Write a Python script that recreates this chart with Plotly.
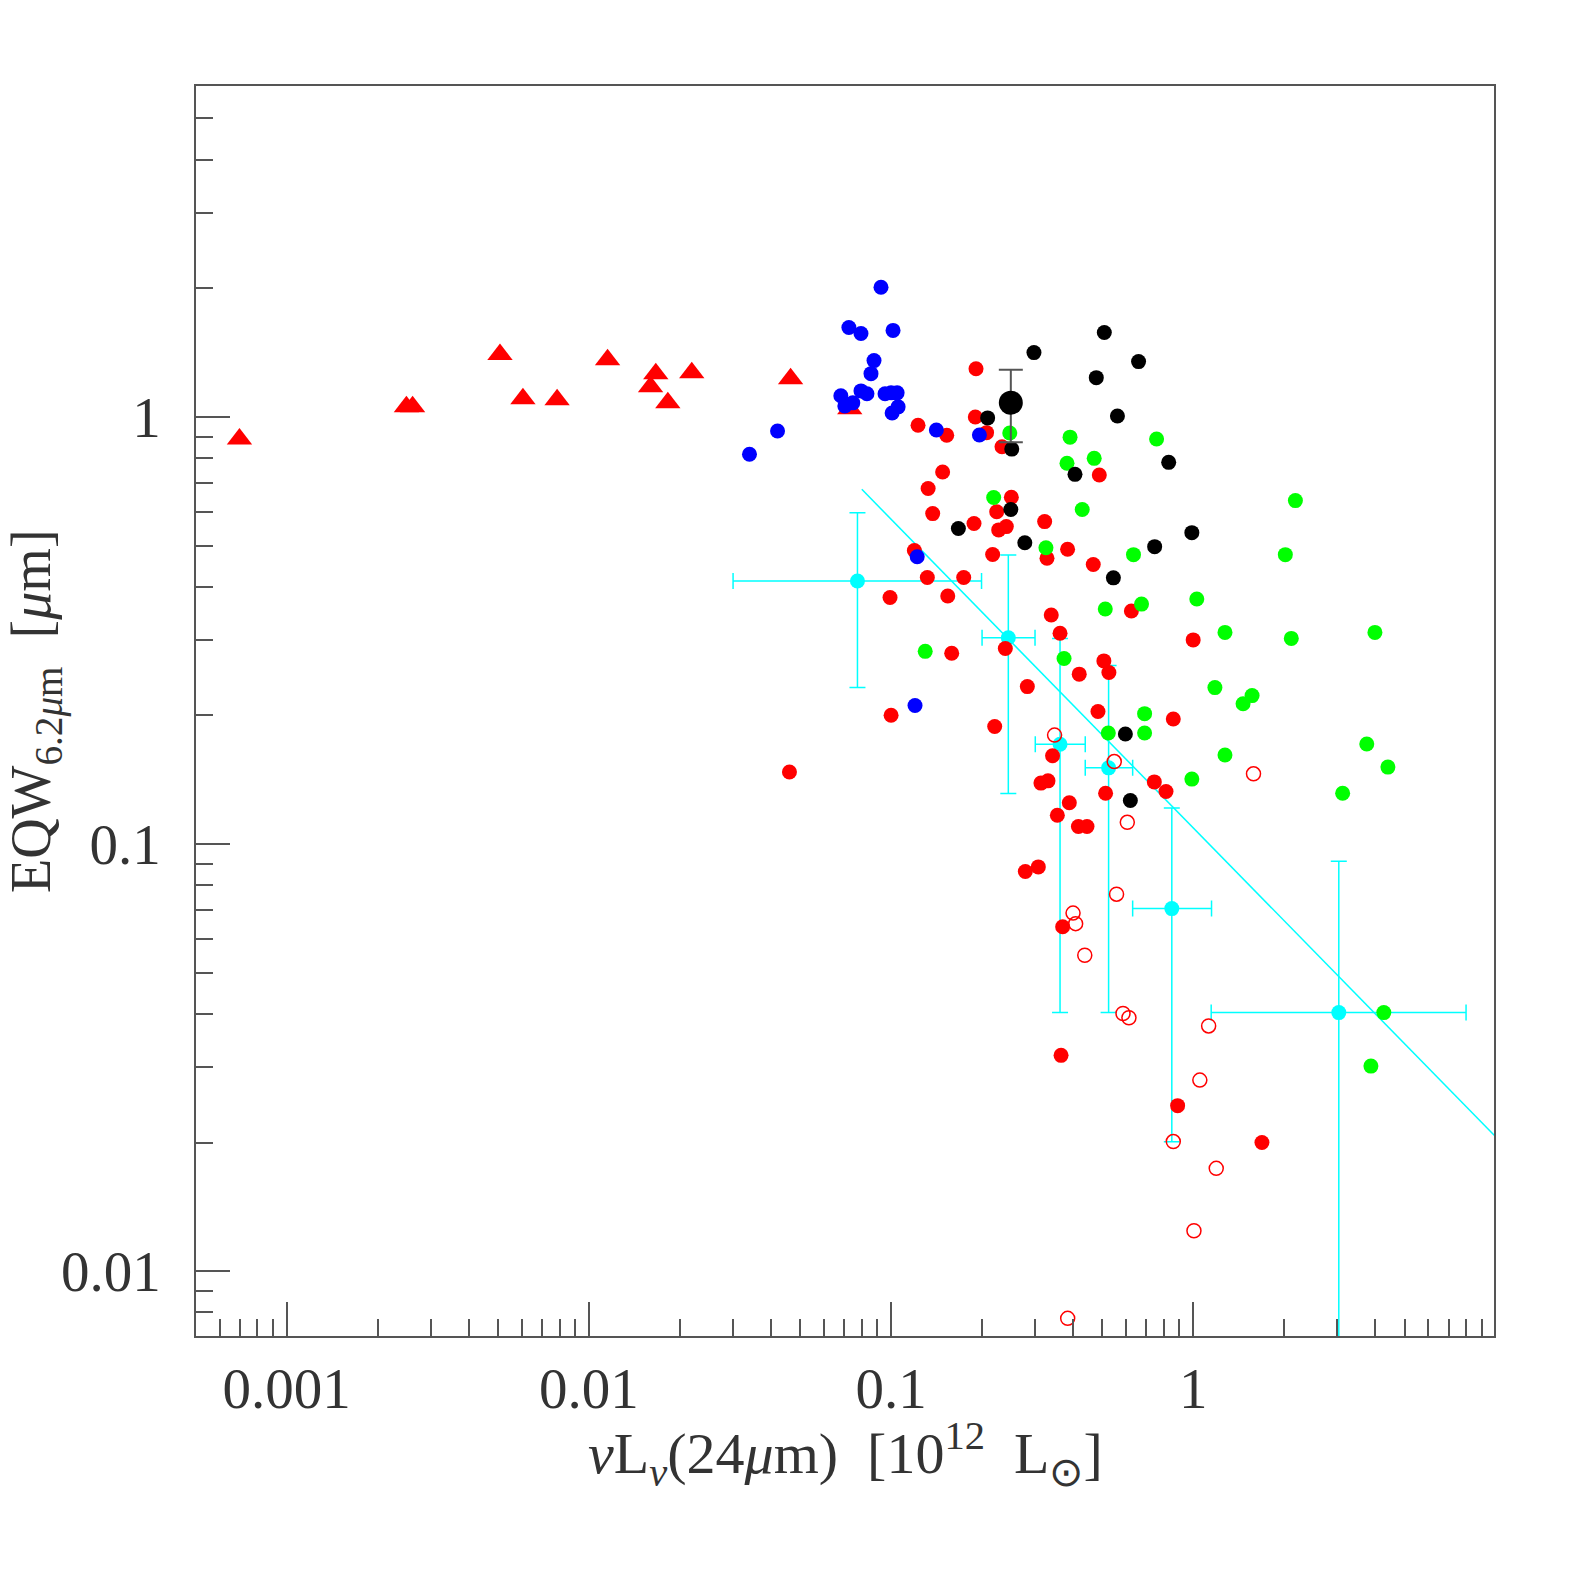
import numpy as np
import plotly.graph_objects as go

# red filled triangles
tri_x = [0.000698, 0.00249, 0.00261, 0.00508, 0.00605, 0.00785, 0.01153,
         0.01665, 0.0160, 0.01825, 0.0219, 0.0465, 0.0730]
tri_y = [0.888, 1.056, 1.056, 1.40, 1.103, 1.097, 1.362,
         1.263, 1.177, 1.079, 1.27, 1.229, 1.045]

# red filled circles
red_x = [0.191, 0.190, 0.207, 0.1228, 0.1528, 0.2328, 0.1481, 0.1326, 0.1373,
         0.1881, 0.250, 0.2236, 0.227, 0.2406, 0.3222, 0.3837, 0.328, 0.4666,
         0.4886, 0.2168, 0.1194, 0.1318, 0.1739, 0.0992, 0.154, 0.3388, 0.3623,
         0.2388, 0.1587, 0.506, 0.5257, 0.4193, 0.2824, 0.999, 0.624, 0.100,
         0.2202, 0.4837, 0.8586, 0.3422, 0.3132, 0.3305, 0.743, 0.8122, 0.5126,
         0.3888, 0.3549, 0.4167, 0.4449, 0.2781, 0.3070, 0.3696, 0.3651,
         0.8874, 1.687, 0.0461]
red_y = [1.297, 1.0, 0.919, 0.956, 0.906, 0.852, 0.743, 0.680, 0.594,
         0.563, 0.6486, 0.600, 0.5439, 0.5537, 0.5689, 0.490, 0.4667, 0.4512,
         0.7311, 0.4762, 0.4866, 0.4207, 0.4207, 0.3777, 0.381, 0.3439, 0.3115,
         0.287, 0.2797, 0.2684, 0.2522, 0.2499, 0.2337, 0.3006, 0.3514, 0.2002,
         0.1884, 0.2043, 0.1963, 0.1609, 0.1389, 0.1406, 0.1398, 0.1327, 0.1315,
         0.1249, 0.1168, 0.1099, 0.1099, 0.0862, 0.0884, 0.0640, 0.0320,
         0.0244, 0.0200, 0.1474]

# red open circles
open_x = [0.3475, 0.5475, 0.6048, 0.5573, 0.400, 0.408, 0.4374, 1.582,
          0.5853, 0.6124, 1.124, 1.051, 0.8586, 1.191, 1.005, 0.384]
open_y = [0.1799, 0.156, 0.1124, 0.0763, 0.0689, 0.0651, 0.0549, 0.146,
          0.0401, 0.0392, 0.0375, 0.0280, 0.0201, 0.0174, 0.01243, 0.00775]

blue_x = [0.0926, 0.0725, 0.0795, 0.1015, 0.0878, 0.0858, 0.0682, 0.0703,
          0.0747, 0.0795, 0.0832, 0.0955, 0.100, 0.1047, 0.1055, 0.1008,
          0.0421, 0.034, 0.1412, 0.196, 0.122, 0.120]
blue_y = [2.013, 1.62, 1.569, 1.595, 1.355, 1.263, 1.121, 1.061,
          1.079, 1.151, 1.133, 1.133, 1.139, 1.139, 1.056, 1.022,
          0.927, 0.818, 0.932, 0.907, 0.4705, 0.211]

green_x = [0.247, 0.391, 0.756, 0.382, 0.47, 0.2185, 0.429, 0.3254, 0.634,
           0.5114, 0.674, 1.027, 2.177, 2.016, 1.273, 2.11, 3.99, 0.1297,
           0.3735, 1.179, 1.565, 1.461, 0.69, 0.5233, 0.69, 1.273, 3.75,
           4.405, 0.989, 3.12, 4.27, 3.87]
green_y = [0.917, 0.897, 0.888, 0.779, 0.80, 0.648, 0.607, 0.494, 0.476,
           0.355, 0.3646, 0.3747, 0.637, 0.476, 0.313, 0.303, 0.313, 0.2826,
           0.272, 0.2324, 0.2226, 0.2131, 0.202, 0.182, 0.182, 0.1616, 0.1715,
           0.1514, 0.1419, 0.1315, 0.0403, 0.0302]

black_x = [0.297, 0.5076, 0.659, 0.4775, 0.561, 0.2087, 0.2508, 0.406, 0.829,
           0.249, 0.167, 0.277, 0.989, 0.745, 0.544, 0.596, 0.619]
black_y = [1.415, 1.577, 1.348, 1.236, 1.005, 0.995, 0.841, 0.734, 0.783,
           0.607, 0.548, 0.5076, 0.536, 0.497, 0.420, 0.181, 0.1265]

# mean point with error bar
mean_x = [0.249]
mean_y = [1.080]
mean_y_lo = [0.873]
mean_y_hi = [1.29]

# binned points (cyan)
cyan_x = [0.0774, 0.2443, 0.3623, 0.5245, 0.849, 3.03]
cyan_y = [0.413, 0.304, 0.1713, 0.1508, 0.0706, 0.0403]
cyan_x_lo = [0.030, 0.200, 0.300, 0.439, 0.630, 1.146]
cyan_x_hi = [0.1992, 0.2994, 0.439, 0.630, 1.149, 7.99]
cyan_y_lo = [0.2325, 0.1313, 0.0403, 0.0403, 0.02008, 0.002]
cyan_y_hi = [0.597, 0.475, 0.303, 0.262, 0.1214, 0.0911]

# fitted relation
fit_x = [0.080, 9.9]
fit_y = [0.677, 0.0208]

x_major = [0.001, 0.01, 0.1, 1]
x_major_text = ["0.001", "0.01", "0.1", "1"]
y_major = [0.01, 0.1, 1]
y_major_text = ["0.01", "0.1", "1"]

CYAN = "#00FFFF"
AXIS = "#555555"
FONT = "Liberation Serif"
TEXT = "#333333"

x_minor = [m * 10.0 ** e for e in range(-4, 1) for m in range(2, 10)]
y_minor = [m * 10.0 ** e for e in range(-3, 1) for m in range(2, 10)]

fig = go.Figure()

cx = np.array(cyan_x)
cy = np.array(cyan_y)
fig.add_trace(go.Scatter(
    x=cyan_x, y=cyan_y, mode="markers",
    marker=dict(color=CYAN, size=15),
    error_x=dict(type="data", symmetric=False,
                 array=np.array(cyan_x_hi) - cx,
                 arrayminus=cx - np.array(cyan_x_lo),
                 color=CYAN, thickness=1.5, width=8),
    error_y=dict(type="data", symmetric=False,
                 array=np.array(cyan_y_hi) - cy,
                 arrayminus=cy - np.array(cyan_y_lo),
                 color=CYAN, thickness=1.5, width=8),
))
fig.add_trace(go.Scatter(x=fit_x, y=fit_y, mode="lines",
                         line=dict(color=CYAN, width=1.5)))

fig.add_trace(go.Scatter(x=tri_x, y=tri_y, mode="markers",
                         marker=dict(symbol="triangle-up", color="#FF0000",
                                     size=22)))
fig.add_trace(go.Scatter(x=red_x, y=red_y, mode="markers",
                         marker=dict(color="#FF0000", size=15)))
fig.add_trace(go.Scatter(x=blue_x, y=blue_y, mode="markers",
                         marker=dict(color="#0000FF", size=15)))
fig.add_trace(go.Scatter(x=green_x, y=green_y, mode="markers",
                         marker=dict(color="#00FF00", size=15)))
fig.add_trace(go.Scatter(x=black_x, y=black_y, mode="markers",
                         marker=dict(color="#000000", size=15)))
fig.add_trace(go.Scatter(
    x=mean_x, y=mean_y, mode="markers",
    marker=dict(color="#000000", size=24),
    error_y=dict(type="data", symmetric=False,
                 array=np.array(mean_y_hi) - np.array(mean_y),
                 arrayminus=np.array(mean_y) - np.array(mean_y_lo),
                 color="#555555", thickness=2, width=12),
))
fig.add_trace(go.Scatter(x=open_x, y=open_y, mode="markers",
                         marker=dict(symbol="circle-open", color="#FF0000",
                                     size=14, line=dict(width=1.5))))

axis_common = dict(
    type="log", showgrid=False, zeroline=False,
    showline=True, mirror=True, linecolor=AXIS, linewidth=1.5,
    ticks="inside", ticklen=34, tickwidth=1.5, tickcolor=AXIS,
    tickfont=dict(family=FONT, size=57, color=TEXT),
)

fig.update_layout(
    width=1578, height=1578,
    paper_bgcolor="white", plot_bgcolor="white",
    showlegend=False,
    margin=dict(l=196, r=84, t=86, b=242),
    xaxis=dict(axis_common, range=[-3.30, 0.995],
               tickvals=x_major, ticktext=x_major_text,
               ticklabelstandoff=2,
               minor=dict(tickvals=x_minor, ticks="inside", ticklen=17,
                          tickwidth=1.5, tickcolor=AXIS)),
    yaxis=dict(axis_common, range=[-2.152, 0.775],
               tickvals=y_major, ticktext=y_major_text,
               ticklabelstandoff=22,
               minor=dict(tickvals=y_minor, ticks="inside", ticklen=17,
                          tickwidth=1.5, tickcolor=AXIS)),
    annotations=[
        dict(text="<i>ν</i>L<sub><i>ν</i></sub>(24<i>μ</i>m)  [10<sup>12</sup>  L<sub>⊙</sub>]",
             xref="paper", yref="paper", x=0.5, y=-0.094,
             xanchor="center", yanchor="middle", showarrow=False,
             font=dict(family=FONT, size=58, color=TEXT)),
        dict(text="EQW<sub>6.2<i>μ</i>m</sub>  [<i>μ</i>m]",
             xref="paper", yref="paper", x=-0.124, y=0.5, textangle=-90,
             xanchor="center", yanchor="middle", showarrow=False,
             font=dict(family=FONT, size=56, color=TEXT)),
    ],
)

fig.write_html("out.html", config={"displayModeBar": False},
               post_script="document.body.style.margin='0';")
